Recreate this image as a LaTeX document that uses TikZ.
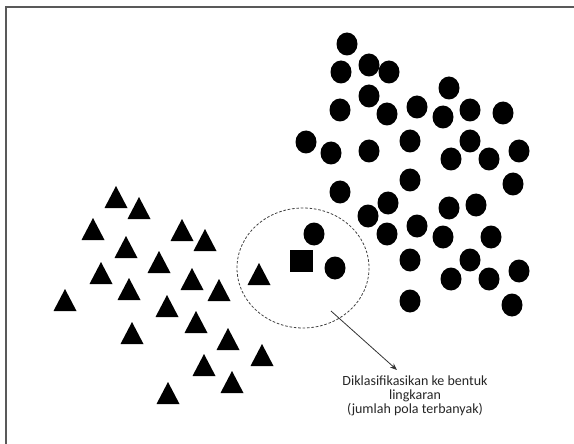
\documentclass[tikz,border=0pt]{standalone}
\usepackage{fontspec}
\usepackage{tikz}
\usetikzlibrary{arrows.meta}
\newfontfamily\calfont{Carlito}

\begin{document}
\begin{tikzpicture}[x=1pt,y=-1pt,
    dot/.style={fill=black},
    tri/.style={fill=black},
    frameline/.style={draw=black!65,line width=1.4pt},
    nbr/.style={draw=black!75,line width=0.8pt,dash pattern=on 2.6pt off 1.8pt},
    lbl/.style={align=center,text=black!85,font=\calfont\fontsize{14}{14.3}\selectfont}]
      \useasboundingbox (0,0) rectangle (574,444);
      \draw[frameline] (6,444) -- (6,7) -- (574,7);
      % circle class
      \foreach \x/\y in {347/44,341/72,369/65,389/72,369/96,340/110,387/114,417/107,
                         449/88,443/117,470/110,503/113,306/142,331/153,369/151,410/141,
                         470/141,451/159,489/159,519/151,410/180,513/184,340/192,388/203,
                         368/216,387/234,417/226,449/208,476/205,443/237,491/237,410/260,
                         470/260,451/279,489/279,519/271,410/301,512/305,314/234,335/268}
        \fill[dot] (\x,\y) ellipse (10.5 and 11.5);
      % triangle class
      \foreach \x/\y in {116/186,139/197,93/218,126/236,182/219,205/229,159/251,
                         101/262,129/278,192/268,219/279,259/263,65/289,167/295,
                         196/311,132/322,228/328,262/344,204/354,232/371,168/382}
        \fill[tri] ({\x-11.5},{\y+22}) -- (\x,\y) -- ({\x+11.5},{\y+22}) -- cycle;
      % unknown pattern and its neighbourhood
      \fill (290,250) rectangle (313,272);
      \draw[nbr] (303,268) ellipse (66 and 60);
      \coordinate (knn) at (331,311);
      \coordinate (tip) at (397,370);
      \node[lbl] (hasil) at (415,396) {Diklasifikasikan ke bentuk\\lingkaran\\(jumlah pola terbanyak)};
      \draw[-{Stealth[length=7pt,width=5.5pt]},black!80,line width=0.8pt] (knn) -- (tip);
\end{tikzpicture}
\end{document}
